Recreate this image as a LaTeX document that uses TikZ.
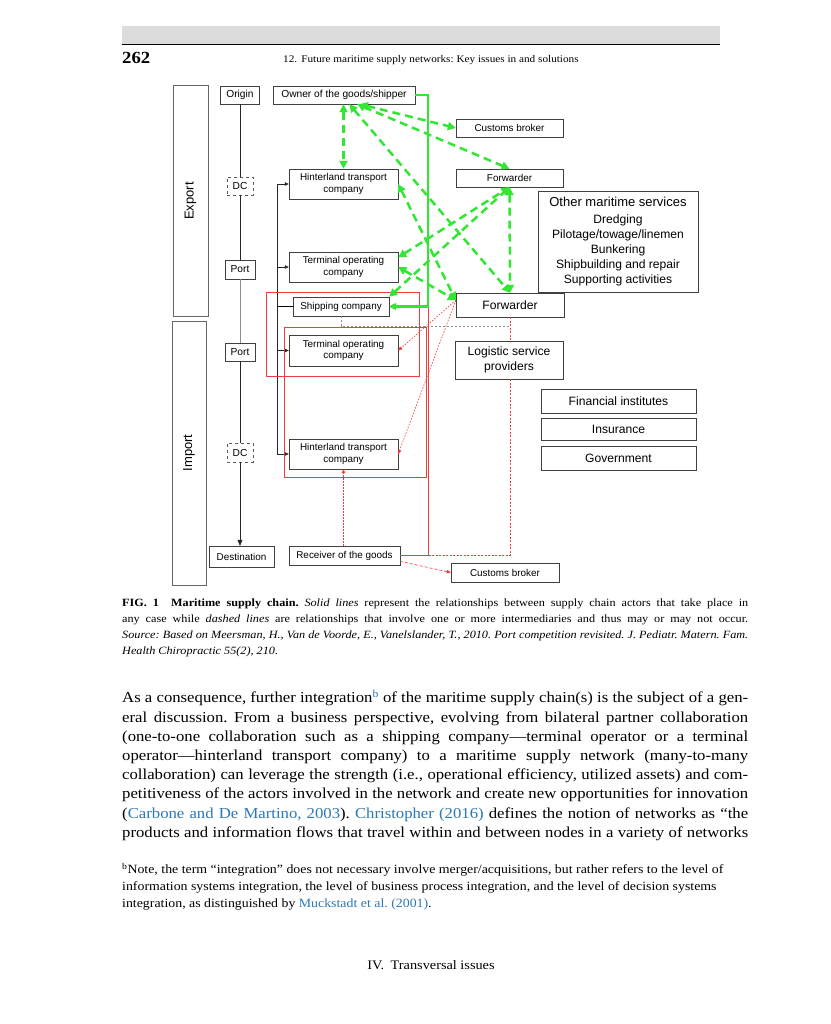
\documentclass[tikz,border=0pt]{standalone}
\usepackage{fontspec}
\setmainfont{Liberation Serif}[FakeStretch=1.1]
\newfontfamily\diagfont{Liberation Sans}
\usetikzlibrary{arrows.meta,calc}
\definecolor{lime}{HTML}{33E633}
\definecolor{flowred}{HTML}{F23B3B}
\definecolor{citeblue}{HTML}{2C78B8}
\definecolor{bargray}{HTML}{DCDCDC}
\frenchspacing

\begin{document}
\begin{tikzpicture}[x=1pt,y=-1pt,>=Latex,line join=miter]
  \tikzset{
    box/.style={draw=black!75,fill=white,inner sep=1pt,align=center,font=\diagfont\fontsize{9.9}{11.5}\selectfont},
    chainbox/.style={box,font=\diagfont\fontsize{10.2}{12}\selectfont},
    dcbox/.style={chainbox,dashed,draw=black!65},
    bigbox/.style={box,font=\diagfont\fontsize{12.1}{15}\selectfont},
    sidebox/.style={draw=black!60,rotate=90,font=\diagfont\fontsize{13}{15}\selectfont},
    gflow/.style={lime,line width=2.5pt,dash pattern=on 8pt off 5pt,{Triangle[length=8pt,width=8pt]}-{Triangle[length=8pt,width=8pt]}},
    rflow/.style={flowred,line width=0.6pt,dash pattern=on 1.6pt off 1.4pt,-{Triangle[length=4pt,width=3.5pt]}},
    link/.style={black!85,line width=0.6pt,-{Triangle[length=4pt,width=3.5pt]}},
  }
  \useasboundingbox (0,0) rectangle (830,1024);
  \fill[white] (0,0) rectangle (830,1024);
  % running head
  \fill[bargray] (122,26) rectangle (720,44);
  \draw[line width=1.4pt] (122,44.5) -- (720,44.5);
  \node[anchor=base west,inner sep=0,font=\bfseries\fontsize{17}{20}\selectfont] (pagenum) at (122,64) {262};
  \node[anchor=base west,inner sep=0,font=\fontsize{10.2}{12}\selectfont] (running) at (283,63) {12.\hspace{0.4em}Future maritime supply networks: Key issues in and solutions};
  % export / import
  \node[sidebox,minimum width=231,minimum height=35] (export) at (190.5,201) {Export};
  \node[sidebox,minimum width=264,minimum height=34] (import) at (189,453) {Import};
  % chain
  \node[chainbox,minimum width=39,minimum height=18] (origin) at (240,95) {Origin};
  \node[dcbox,minimum width=26,minimum height=18] (dcA) at (240,186) {DC};
  \node[chainbox,minimum width=30,minimum height=19] (portA) at (240,269.5) {Port};
  \node[chainbox,minimum width=30,minimum height=18] (portB) at (240,352) {Port};
  \node[dcbox,minimum width=26,minimum height=19] (dcB) at (240,452.5) {DC};
  \node[box,minimum width=65,minimum height=21] (dest) at (241.5,556.5) {Destination};
  % actors
  \node[chainbox,minimum width=142,minimum height=18] (owner) at (344,95) {Owner of the goods/shipper};
  \node[box,minimum width=109,minimum height=30] (hintA) at (343.5,184) {Hinterland transport\\company};
  \node[box,minimum width=109,minimum height=30] (termA) at (343.5,267) {Terminal operating\\company};
  \node[box,minimum width=96,minimum height=19] (ship) at (341,306.5) {Shipping company};
  \node[box,minimum width=109,minimum height=31] (termB) at (343.5,350.5) {Terminal operating\\company};
  \node[box,minimum width=109,minimum height=30] (hintB) at (343.5,454) {Hinterland transport\\company};
  \node[box,minimum width=111,minimum height=19] (recv) at (344.5,555.5) {Receiver of the goods};
  \node[box,minimum width=107,minimum height=18] (custA) at (509.5,128) {Customs broker};
  \node[box,minimum width=107,minimum height=18] (fwdA) at (509.5,178) {Forwarder};
  \node[box,minimum width=108,minimum height=19] (custB) at (505,572.5) {Customs broker};
  \node[bigbox,minimum width=160,minimum height=101] (other) at (618,241.5)
    {{\fontsize{13}{15}\selectfont Other maritime services}\\[2pt]Dredging\\Pilotage/towage/linemen\\Bunkering\\Shipbuilding and repair\\Supporting activities};
  \node[bigbox,minimum width=108,minimum height=24] (fwdB) at (510,305) {Forwarder};
  \node[bigbox,minimum width=108,minimum height=38] (lsp) at (509,360) {Logistic service\\providers};
  \foreach \nm/\y/\h/\txt in {fin/401/24/Financial institutes,ins/429/22/Insurance,gov/458/24/Government}{
    \node[bigbox,minimum width=155,minimum height=\h] (\nm) at (618.5,\y) {\txt};
  }
  % flow of goods
  \draw[black!85] (origin) -- (dcA);
  \draw[black!85] (dcA) -- (portA);
  \draw[black!45] (portA) -- (portB);
  \draw[black!85] (portB) -- (dcB);
  \draw[black!85,-{Triangle[length=6pt,width=5pt]}] (dcB) -- (dcB |- dest.north);
  \coordinate (spine) at (277,0);
  \draw[black!85] (hintA.west -| spine) -- (hintB.west -| spine);
  \foreach \n in {hintA,termA,termB,hintB}{\draw[link] (\n.west -| spine) -- (\n.west);}
  \draw[line width=1.3pt] (ship.west -| spine) -- (ship.west);
  % red: import side
  \coordinate (gbus) at (428,0);
  \coordinate (gline) at (0,326);
  \draw[black!45,dash pattern=on 2pt off 2pt] (ship.south) -- (ship.south |- gline) -- (fwdB.south |- gline);
  \draw[flowred,line width=0.6pt,dash pattern=on 2pt off 1.5pt] (fwdB.south) -- (fwdB.south |- lsp.north);
  \draw[flowred,line width=0.6pt,dash pattern=on 2pt off 1.5pt] (fwdB.south |- lsp.south) -- (fwdB.south |- recv.east) -- (recv.east -| gbus);
  \draw[flowred,line width=0.8pt,-{Triangle[length=5pt,width=5pt]}] (recv.east) -- (recv.east -| gbus) -- (ship.east -| gbus) -- (ship.east);
  \draw[rflow] (fwdB.175) -- (termB.east);
  \draw[rflow] (fwdB.175) -- (hintB.east);
  \draw[rflow] (recv.north -| hintB.south) -- (hintB.south);
  \draw[rflow,dash pattern=on 3pt off 2pt] (recv.-6) -- (custB.west);
  \draw[flowred,line width=1pt] (266,292) rectangle (419,376);
  \draw[flowred,line width=1pt] (284,327) rectangle (426,477);
  % green: export side
  \draw[lime,line width=2.2pt,-{Triangle[length=7pt,width=7pt]}] (owner.east) -- (owner.east -| gbus) -- (ship.east -| gbus) -- (ship.east);
  \draw[gflow] (owner.south -| hintA.north) -- (hintA.north);
  \foreach \a/\b in {owner.-30/custA.west,owner.-35/fwdA.north,owner.-60/fwdB.north,hintA.east/fwdB.175,termA.east/fwdB.175,termA.10/fwdA.south,ship.north east/fwdA.south,fwdA.south/fwdB.north}{
    \draw[gflow] (\a) -- (\b);
  }
  % caption
  \node[anchor=north west,inner sep=0] (caption) at (122,599) {\parbox{626pt}{\fontsize{11.1}{16}\selectfont\parfillskip=0pt plus 1fil
    \textbf{FIG. 1}\hspace{1.1em}\textbf{Maritime supply chain.} \textit{Solid lines} represent the relationships between supply chain actors that take place in\linebreak
    any case while \textit{dashed lines} are relationships that involve one or more intermediaries and thus may or may not occur.\linebreak
    \textit{Source: Based on Meersman, H., Van de Voorde, E., Vanelslander, T., 2010. Port competition revisited. J. Pediatr. Matern. Fam.\linebreak
    Health Chiropractic 55(2), 210.}}};
  % body text
  \node[anchor=north west,inner sep=0] (body) at (122,690) {\parbox{626pt}{\fontsize{15.2}{19.2}\selectfont\parfillskip=0pt
    As a consequence, further integration\textsuperscript{\color{citeblue}b} of the maritime supply chain(s) is the subject of a gen-\linebreak
    eral discussion. From a business perspective, evolving from bilateral partner collaboration\linebreak
    (one-to-one collaboration such as a shipping company---terminal operator or a terminal\linebreak
    operator---hinterland transport company) to a maritime supply network (many-to-many\linebreak
    collaboration) can leverage the strength (i.e., operational efficiency, utilized assets) and com-\linebreak
    petitiveness of the actors involved in the network and create new opportunities for innovation\linebreak
    ({\color{citeblue}Carbone and De Martino, 2003}). {\color{citeblue}Christopher (2016)} defines the notion of networks as ``the\linebreak
    products and information flows that travel within and between nodes in a variety of networks}};
  % footnote
  \node[anchor=north west,inner sep=0] (fnote) at (122,863) {\parbox{626pt}{\fontsize{12.6}{16.7}\selectfont\raggedright
    \textsuperscript{b}Note, the term ``integration'' does not necessary involve merger/acquisitions, but rather refers to the level of\\
    information systems integration, the level of business process integration, and the level of decision systems\\
    integration, as distinguished by {\color{citeblue}Muckstadt et al. (2001)}.}};
  \node[font=\fontsize{13}{15}\selectfont] (footer) at (431,965) {IV.\hspace{0.5em}Transversal issues};
\end{tikzpicture}
\end{document}
